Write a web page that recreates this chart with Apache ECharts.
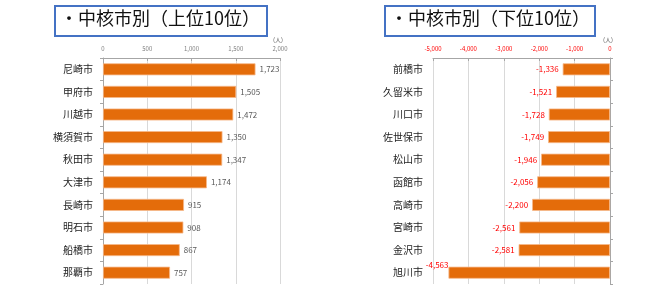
<!DOCTYPE html>
<html>
<head>
<meta charset="utf-8">
<script src="https://cdn.jsdelivr.net/npm/echarts@6/dist/echarts.min.js"></script>
<style>html,body{margin:0;padding:0;background:#fff;}#c{width:650px;height:292px;}</style>
</head>
<body>
<div id="c"></div>
<script>
const leftCities = ['尼崎市','甲府市','川越市','横須賀市','秋田市','大津市','長崎市','明石市','船橋市','那覇市'];
const leftValues = [1723,1505,1472,1350,1347,1174,915,908,867,757];
const rightCities = ['前橋市','久留米市','川口市','佐世保市','松山市','函館市','高崎市','宮崎市','金沢市','旭川市'];
const rightValues = [-1336,-1521,-1728,-1749,-1946,-2056,-2200,-2561,-2581,-4563];
const leftTitle = '・中核市別（上位10位）';
const rightTitle = '・中核市別（下位10位）';
const unitLabel = '(人)';

const FONT = "'Noto Sans CJK JP', 'Noto Sans', sans-serif";
const fmt = v => String(v).replace(/\B(?=(\d{3})+(?!\d))/g, ',');
const barColor = '#E46C0A';

const chart = echarts.init(document.getElementById('c'));
const rightData = rightValues.map((v, i) => i === rightValues.length - 1
  ? {value: v, label: {offset: [4, -8]}} : v);

chart.setOption({
  animation: false,
  textStyle: {fontFamily: FONT},
  grid: [
    {left: 103, top: 58, width: 177, height: 226},
    {left: 433, top: 58, width: 177, height: 226}
  ],
  xAxis: [
    {type: 'value', gridIndex: 0, position: 'top', min: 0, max: 2000, interval: 500,
     axisLine: {show: true, lineStyle: {color: '#A6A6A6'}},
     axisTick: {show: true, inside: true, length: 3, lineStyle: {color: '#A6A6A6'}},
     axisLabel: {fontSize: 6, color: '#808080', margin: 6, formatter: fmt},
     splitLine: {show: true, lineStyle: {color: '#D9D9D9'}}},
    {type: 'value', gridIndex: 1, position: 'top', min: -5000, max: 0, interval: 1000,
     axisLine: {show: true, lineStyle: {color: '#A6A6A6'}},
     axisTick: {show: true, inside: true, length: 3, lineStyle: {color: '#A6A6A6'}},
     axisLabel: {fontSize: 6, color: '#FF0000', margin: 6, formatter: fmt},
     splitLine: {show: true, lineStyle: {color: '#D9D9D9'}}}
  ],
  yAxis: [
    {type: 'category', gridIndex: 0, data: leftCities, inverse: true,
     axisLine: {show: true, onZero: false, lineStyle: {color: '#A6A6A6'}},
     axisTick: {show: true, length: 3, lineStyle: {color: '#A6A6A6'}},
     axisLabel: {fontSize: 10, color: '#222', margin: 10}},
    {type: 'category', gridIndex: 1, data: rightCities, inverse: true, position: 'left',
     axisLine: {show: false, onZero: false}, axisTick: {show: false},
     axisLabel: {fontSize: 10, color: '#222', margin: 10}},
    {type: 'category', gridIndex: 1, data: rightCities, inverse: true, position: 'right',
     axisLine: {show: true, onZero: false, lineStyle: {color: '#A6A6A6'}},
     axisTick: {show: true, length: 3, lineStyle: {color: '#A6A6A6'}},
     axisLabel: {show: false}}
  ],
  series: [
    {type: 'bar', xAxisIndex: 0, yAxisIndex: 0, data: leftValues, barWidth: 12,
     itemStyle: {color: barColor, borderColor: '#F6B98A', borderWidth: 0.8},
     label: {show: true, position: 'right', distance: 4, fontSize: 8, color: '#595959', formatter: p => fmt(p.value)}},
    {type: 'bar', xAxisIndex: 1, yAxisIndex: 1, data: rightData, barWidth: 12,
     itemStyle: {color: barColor, borderColor: '#F6B98A', borderWidth: 0.8},
     label: {show: true, position: 'left', distance: 4, fontSize: 8, color: '#FF0000', formatter: p => fmt(p.value)}}
  ],
  graphic: [
    {type: 'rect', left: 54, top: 5, shape: {width: 212, height: 30},
     style: {fill: '#fff', stroke: '#4472C4', lineWidth: 2}},
    {type: 'text', left: 60, top: 9, style: {text: leftTitle, font: '18px ' + FONT, fill: '#111'}},
    {type: 'rect', left: 384, top: 5, shape: {width: 210, height: 30},
     style: {fill: '#fff', stroke: '#4472C4', lineWidth: 2}},
    {type: 'text', left: 390, top: 9, style: {text: rightTitle, font: '18px ' + FONT, fill: '#111'}},
    {type: 'text', left: 273, top: 37, style: {text: unitLabel, font: '6px ' + FONT, fill: '#595959'}},
    {type: 'text', left: 603, top: 37, style: {text: unitLabel, font: '6px ' + FONT, fill: '#595959'}}
  ]
});
</script>
</body>
</html>
